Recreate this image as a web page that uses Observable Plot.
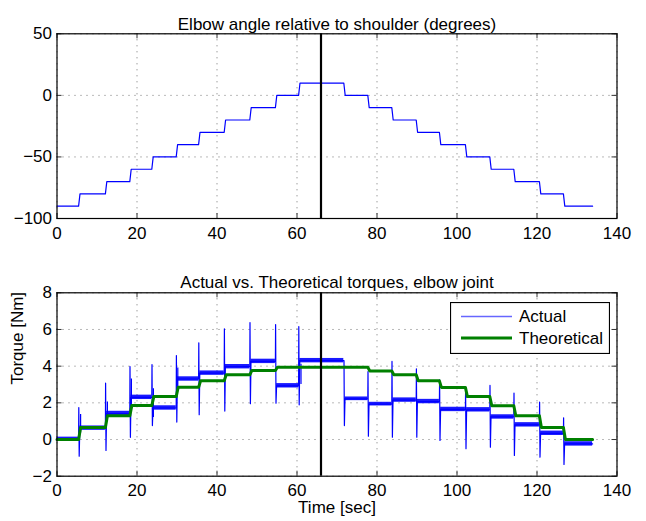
<!DOCTYPE html>
<html><head><meta charset="utf-8">
<script src="https://cdn.jsdelivr.net/npm/d3@7"></script>
<script src="https://cdn.jsdelivr.net/npm/@observablehq/plot@0.6"></script>
<style>
body{margin:0;background:#fff;}
#wrap{position:relative;width:646px;height:521px;font-family:"Liberation Sans",Arial,Helvetica,sans-serif;}
#wrap svg{display:block;}
#legend{position:absolute;left:450px;top:302px;}
</style></head><body><div id="wrap"></div>
<script>
// ---- data ----
const xTicks = [0, 20, 40, 60, 80, 100, 120, 140];
const angleTicks = [-100, -50, 0, 50];
const torqueTicks = [-2, 0, 2, 4, 6, 8];
const markerTime = 66;

// start time of each hold segment (s) and the end of the record
const stepTimes = [0, 5.4, 12.1, 18.2, 23.7, 29.8, 35.4, 41.8, 48.2, 54.6, 60.4, 71.7, 77.7, 83.7, 89.8, 95.6, 102.1, 108.2, 114.2, 120.6, 126.6];
const endTime = 133.9;
// elbow angle per segment (deg)
const angleLevels = [-90, -80, -70, -60, -50, -40, -30, -20, -10, 0, 10, 0, -10, -20, -30, -40, -50, -60, -70, -80, -90];

// theoretical torque steps
const theoTimes = [0, 5.4, 12.1, 18.2, 23.7, 29.8, 35.4, 41.8, 48.2, 54.6, 77.7, 83.7, 89.8, 95.6, 102.1, 108.2, 114.2, 120.6, 126.6];
const theoLevels = [0, 0.66, 1.29, 1.85, 2.34, 2.85, 3.2, 3.53, 3.76, 3.94, 3.74, 3.53, 3.2, 2.84, 2.34, 1.84, 1.29, 0.66, 0];

// actual torque: mean level per segment, noise half-width, transition spikes
const actualLevels = [0.04, 0.62, 1.42, 2.3, 1.72, 3.3, 3.62, 3.97, 4.26, 2.93, 4.3, 2.22, 1.93, 2.15, 2.07, 1.64, 1.62, 1.23, 0.8, 0.34, -0.24];
const actualNoise = [0.09, 0.12, 0.12, 0.12, 0.12, 0.12, 0.12, 0.12, 0.12, 0.12, 0.12, 0.1, 0.1, 0.12, 0.12, 0.12, 0.12, 0.12, 0.12, 0.12, 0.12];
const spikeHigh = [1.74, 3.07, 3.98, 4.09, 4.58, 5.27, 6.04, 6.38, 6.27, 6.16, 4.3, 3.7, 4.26, 3.86, 3.26, 2.67, 2.95, 2.53, 2.04, 1.18];
const spikeLow = [-0.91, -0.6, 0.12, 0.76, 0.95, 1.35, 1.55, 1.95, 1.98, 1.89, 0.76, 0.18, 0.13, 0.13, -0.05, -0.5, -0.42, -0.87, -0.96, -1.36];
// secondary spikes just after some transitions
const extraTimes = [5.9, 12.6, 18.6, 24.1, 30.2, 61.0];
const extraLow = [0.35, 1.0, 1.6, 1.2, 2.6, 3.0];
const extraHigh = [1.36, 2.05, 3.3, 2.77, 3.9, 4.1];

const titleTop = "Elbow angle relative to shoulder (degrees)";
const titleBottom = "Actual vs. Theoretical torques, elbow joint";
const xLabel = "Time [sec]";
const yLabel = "Torque [Nm]";
const legendNames = ["Actual", "Theoretical"];

// ---- build tables ----
const BLUE = "#0000ff", GREEN = "#008000";
function stepLine(times, levels, end, ramp) {
  const pts = [{t: times[0], v: levels[0]}];
  for (let i = 1; i < times.length; i++) {
    pts.push({t: times[i], v: levels[i - 1]});
    pts.push({t: times[i] + ramp, v: levels[i]});
  }
  pts.push({t: end, v: levels[levels.length - 1]});
  return pts;
}
const anglePts = stepLine(stepTimes, angleLevels, endTime, 0.35);
const theoPts = stepLine(theoTimes, theoLevels, endTime, 0.5);

const actualPts = [{t: stepTimes[0], v: actualLevels[0]}];
for (let i = 1; i < stepTimes.length; i++) {
  const T = stepTimes[i];
  actualPts.push({t: T, v: actualLevels[i - 1]});
  actualPts.push({t: T + 0.05, v: spikeHigh[i - 1]});
  actualPts.push({t: T + 0.15, v: spikeLow[i - 1]});
  actualPts.push({t: T + 0.3, v: actualLevels[i]});
}
actualPts.push({t: endTime, v: actualLevels[actualLevels.length - 1]});
const bands = stepTimes.map((s, i) => ({
  x1: i === 0 ? s : s + 0.3,
  x2: i + 1 < stepTimes.length ? stepTimes[i + 1] : endTime,
  y1: actualLevels[i] - actualNoise[i],
  y2: actualLevels[i] + actualNoise[i]
}));
const extras = extraTimes.map((t, i) => ({t, lo: extraLow[i], hi: extraHigh[i]}));

// ---- shared styling ----
const FONT = "Liberation Sans, Arial, Helvetica, sans-serif";
const W = 646, ML = 56.5, MR = 29.5;
const grid = {stroke: "#000", strokeOpacity: 0.55, strokeDasharray: "1,5", strokeWidth: 1};
const tickStyle = {stroke: "#333", strokeWidth: 1};

function frameMarks(yTicks, plotH, yPad, xPad) {
  const plotW = W - ML - MR;
  return [
    Plot.gridX(xTicks, grid),
    Plot.gridY(yTicks, grid),
    Plot.ruleX(xTicks, {x: d => d, insetTop: plotH - 5, ...tickStyle}),
    Plot.ruleX(xTicks, {x: d => d, insetBottom: plotH - 5, ...tickStyle}),
    Plot.ruleY(yTicks, {y: d => d, insetRight: plotW - 5, ...tickStyle}),
    Plot.ruleY(yTicks, {y: d => d, insetLeft: plotW - 5, ...tickStyle}),
    Plot.axisX(xTicks, {anchor: "bottom", tickSize: 0, tickPadding: xPad, fontSize: 17, label: null}),
    Plot.axisY(yTicks, {anchor: "left", tickSize: 0, tickPadding: yPad, fontSize: 17, label: null})
  ];
}

// ---- top chart ----
const H1 = 250, MT1 = 33.3, MB1 = 32;
const chartTop = Plot.plot({
  width: W, height: H1,
  marginLeft: ML, marginRight: MR, marginTop: MT1, marginBottom: MB1,
  style: {fontFamily: FONT, color: "#000", background: "transparent", overflow: "visible"},
  x: {domain: [0, 140], axis: null},
  y: {domain: [-100, 50], axis: null},
  marks: [
    ...frameMarks(angleTicks, H1 - MT1 - MB1, 5, 8.3),
    Plot.line(anglePts, {x: "t", y: "v", stroke: BLUE, strokeWidth: 1.2}),
    Plot.ruleX([markerTime], {stroke: "#000", strokeWidth: 2.2}),
    Plot.frame({stroke: "#000", strokeWidth: 1.2}),
    Plot.text([titleTop], {frameAnchor: "top", dy: -15.5, fontSize: 17, fill: "#000"})
  ]
});

// ---- bottom chart ----
const H2 = 271, MT2 = 42.3, MB2 = 45.3;
const chartBottom = Plot.plot({
  width: W, height: H2,
  marginLeft: ML, marginRight: MR, marginTop: MT2, marginBottom: MB2,
  style: {fontFamily: FONT, color: "#000", background: "transparent", overflow: "visible"},
  x: {domain: [0, 140], axis: null},
  y: {domain: [-2, 8], axis: null},
  marks: [
    ...frameMarks(torqueTicks, H2 - MT2 - MB2, 5, 7.5),
    Plot.rect(bands, {x1: "x1", x2: "x2", y1: "y1", y2: "y2", fill: BLUE, fillOpacity: 0.9}),
    Plot.ruleX(extras, {x: "t", y1: "lo", y2: "hi", stroke: BLUE, strokeWidth: 1.2}),
    Plot.line(actualPts, {x: "t", y: "v", stroke: BLUE, strokeWidth: 1.2}),
    Plot.line(theoPts, {x: "t", y: "v", stroke: GREEN, strokeWidth: 3}),
    Plot.ruleX([markerTime], {stroke: "#000", strokeWidth: 2.2}),
    Plot.frame({stroke: "#000", strokeWidth: 1.2}),
    Plot.text([titleBottom], {frameAnchor: "top", dy: -17, fontSize: 17, fill: "#000"}),
    Plot.text([xLabel], {frameAnchor: "bottom", dy: 37, fontSize: 17, fill: "#000"}),
    Plot.text([yLabel], {frameAnchor: "left", dx: -39, rotate: -90, fontSize: 17, fill: "#000"})
  ]
});

const wrap = document.getElementById("wrap");
wrap.appendChild(chartTop);
wrap.appendChild(chartBottom);

// ---- legend ----
const lg = document.createElement("div");
lg.id = "legend";
lg.innerHTML = `<svg width="160" height="52" style="font-family:${FONT}">
  <rect x="0.5" y="0.5" width="159" height="51" fill="#fff" stroke="#000" stroke-width="1.2"/>
  <line x1="11" x2="62" y1="14.5" y2="14.5" stroke="${BLUE}" stroke-opacity="0.6" stroke-width="1.5"/>
  <text x="69" y="14.5" dy="0.35em" font-size="17">${legendNames[0]}</text>
  <line x1="11" x2="62" y1="36" y2="36" stroke="${GREEN}" stroke-width="3"/>
  <text x="69" y="36" dy="0.35em" font-size="17">${legendNames[1]}</text>
</svg>`;
wrap.appendChild(lg);
</script></body></html>
